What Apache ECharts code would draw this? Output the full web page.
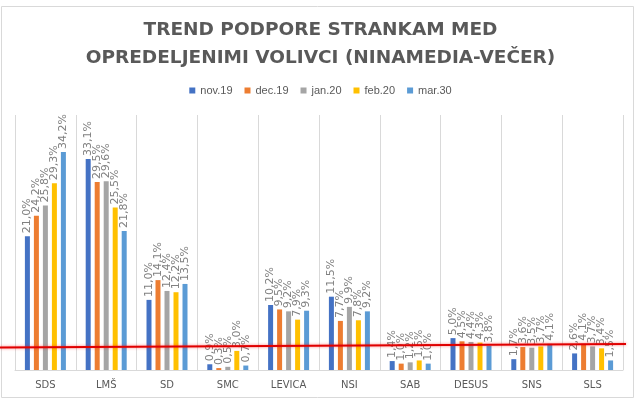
<!DOCTYPE html>
<html>
<head>
    <meta charset="utf-8">
    <title>Trend podpore</title>
    <style type="text/css">
        html, body { width: 100%; height: 100%; margin: 0; padding: 0; background: #fff; }
        #main { width: 641px; height: 403px; }
    </style>
    <script src="https://cdn.jsdelivr.net/npm/echarts@6/dist/echarts.min.js"></script>
</head>
<body>
<div id="main"></div>
<script type="text/javascript">
    // stranke in meseci
    var stranke = ['SDS', 'LMŠ', 'SD', 'SMC', 'LEVICA', 'NSI', 'SAB', 'DESUS', 'SNS', 'SLS'];
    var meseci = ['nov.19', 'dec.19', 'jan.20', 'feb.20', 'mar.30'];

    // podpora v % (prebrano iz grafa)
    var nov19 = [21.0, 33.1, 11.0, 0.9, 10.2, 11.5, 1.4, 5.0, 1.7, 2.6];
    var dec19 = [24.2, 29.5, 14.1, 0.3, 9.5, 7.7, 1.0, 4.5, 3.6, 4.1];
    var jan20 = [25.8, 29.6, 12.4, 0.5, 9.2, 9.9, 1.2, 4.4, 3.5, 3.7];
    var feb20 = [29.3, 25.5, 12.2, 3.0, 7.9, 7.8, 1.5, 4.3, 3.7, 3.4];
    var mar30 = [34.2, 21.8, 13.5, 0.7, 9.3, 9.2, 1.0, 3.8, 4.1, 1.5];

    var barve = ['#4472C4', '#ED7D31', '#A5A5A5', '#FFC000', '#5B9BD5'];
    var vrednosti = [nov19, dec19, jan20, feb20, mar30];

    var myChart = echarts.init(document.getElementById('main'));

    var series = meseci.map(function (m, i) {
        return {
            name: m,
            type: 'bar',
            data: vrednosti[i],
            barWidth: 5,
            barGap: '80%',
            itemStyle: { color: barve[i] },
            label: {
                show: true,
                position: 'top',
                rotate: 90,
                align: 'left',
                verticalAlign: 'middle',
                distance: 3,
                color: '#808080',
                fontSize: 11,
                fontFamily: 'DejaVu Sans',
                formatter: function (p) {
                    return p.value.toFixed(1).replace('.', ',') + '%';
                }
            }
        };
    });

    var option = {
        color: barve,
        animation: false,
        title: {
            text: 'TREND PODPORE STRANKAM MED\nOPREDELJENIMI VOLIVCI (NINAMEDIA-VEČER)',
            left: 'center',
            top: 11,
            textStyle: {
                color: '#595959',
                fontSize: 18.5,
                fontWeight: 'bold',
                fontFamily: 'DejaVu Sans',
                lineHeight: 28
            }
        },
        legend: {
            data: meseci,
            top: 80,
            left: 'center',
            itemWidth: 6,
            itemHeight: 6,
            itemGap: 12,
            icon: 'rect',
            textStyle: { color: '#595959', fontSize: 11, fontFamily: 'Liberation Sans' }
        },
        grid: { left: 15, right: 18, top: 115, bottom: 33, containLabel: false },
        xAxis: {
            type: 'category',
            data: stranke,
            axisTick: { show: false },
            axisLine: { lineStyle: { color: '#d9d9d9' } },
            splitLine: { show: true, lineStyle: { color: '#d9d9d9' } },
            axisLabel: { color: '#595959', fontSize: 10, fontFamily: 'DejaVu Sans', margin: 10 }
        },
        yAxis: {
            type: 'value',
            min: 0,
            max: 40,
            show: false,
            splitLine: { show: false }
        },
        graphic: [
            {
                type: 'rect',
                shape: { x: 1.5, y: 6.5, width: 632, height: 391 },
                style: { fill: 'none', stroke: '#d9d9d9', lineWidth: 1 },
                z: 100
            },
            {
                // rocno narisana rdeca crta
                type: 'line',
                shape: { x1: 0, y1: 347.5, x2: 626, y2: 344 },
                style: {
                    stroke: '#e00000',
                    lineWidth: 2.2,
                    shadowColor: 'rgba(255,0,0,0.5)',
                    shadowBlur: 3
                },
                z: 100
            }
        ],
        series: series
    };

    myChart.setOption(option);
</script>
</body>
</html>
